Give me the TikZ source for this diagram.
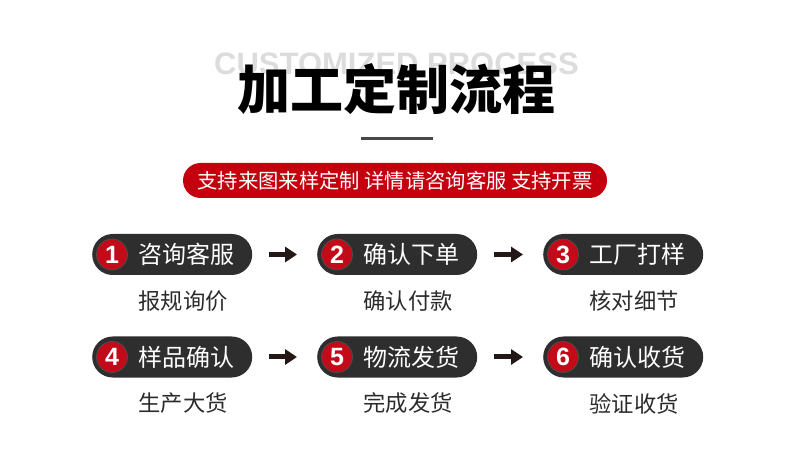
\documentclass[tikz,border=0pt]{standalone}
\usepackage{fontspec}
\setmainfont{Liberation Sans}
\newfontfamily\cjk{Noto Sans CJK SC}
\usetikzlibrary{arrows.meta}
\definecolor{bannerred}{HTML}{C5000E}
\definecolor{circred}{HTML}{C20A18}
\definecolor{pilldark}{HTML}{2E2E2E}
\definecolor{arrowdark}{HTML}{231815}
\definecolor{subgray}{HTML}{2B2B2B}
\definecolor{ghost}{HTML}{DCDCDC}
\tikzset{
  pill/.style={fill=pilldark, rounded corners=20.5pt, minimum width=160pt, minimum height=41pt, inner sep=0pt},
  numcirc/.style={circle, fill=circred, draw=black!70, line width=0.8pt, minimum size=31pt, inner sep=0pt, text=white, font=\fontsize{25}{25}\selectfont\bfseries},
  pilltext/.style={text=white, inner sep=0pt, font=\cjk\fontsize{24}{24}\selectfont},
  subtext/.style={text=subgray, inner sep=0pt, font=\cjk\fontsize{22.3}{22.3}\selectfont},
  flowarrow/.style={draw=arrowdark, line width=5pt, -{Triangle[length=12pt,width=15pt]}, shorten <=17pt, shorten >=20pt}
}
\begin{document}
\begin{tikzpicture}[x=1pt,y=-1pt]
\useasboundingbox (0,0) rectangle (790,470);
% ghost heading
\node[anchor=base, inner sep=0pt, text=ghost, font=\fontsize{31}{31}\selectfont\bfseries] (ghosttitle) at (396.5,75) {CUSTOMIZED PROCESS};
% main title
\node[inner sep=0pt, text=black, font=\cjk\fontsize{53}{53}\selectfont\bfseries] (title) at (396.5,89) {加工定制流程};
% underline
\coordinate (ulA) at (361,139);
\coordinate (ulB) at (433,139);
\draw[line width=3pt, draw=black!72] (ulA) -- (ulB);
% banner
\node[fill=bannerred, rounded corners=17.5pt, minimum width=424pt, minimum height=35pt, inner sep=0pt] (banner) at (395,180.5) {};
\node[text=white, inner sep=0pt, font=\cjk\fontsize{20.3}{20.3}\selectfont] (bannertext) at (banner.center) {支持来图来样定制 详情请咨询客服 支持开票};
% steps
\foreach \i/\x/\y/\main/\sub in {
  1/92/254.5/咨询客服/报规询价,
  2/317/254.5/确认下单/确认付款,
  3/543/254.5/工厂打样/核对细节,
  4/92/357/样品确认/生产大货,
  5/317/357/物流发货/完成发货,
  6/543/357/确认收货/验证收货}{
  \node[pill, anchor=west] (p\i) at (\x,\y) {};
  \node[numcirc] (c\i) at (\x+20,\y) {\i};
  \node[pilltext] (t\i) at (\x+94,\y) {\main};
  \node[subtext] (s\i) at (\x+91,\y+46.5) {\sub};
}
\draw[flowarrow] (p1.east) -- (p2.west);
\draw[flowarrow] (p2.east) -- (p3.west);
\draw[flowarrow] (p4.east) -- (p5.west);
\draw[flowarrow] (p5.east) -- (p6.west);
\end{tikzpicture}
\end{document}
